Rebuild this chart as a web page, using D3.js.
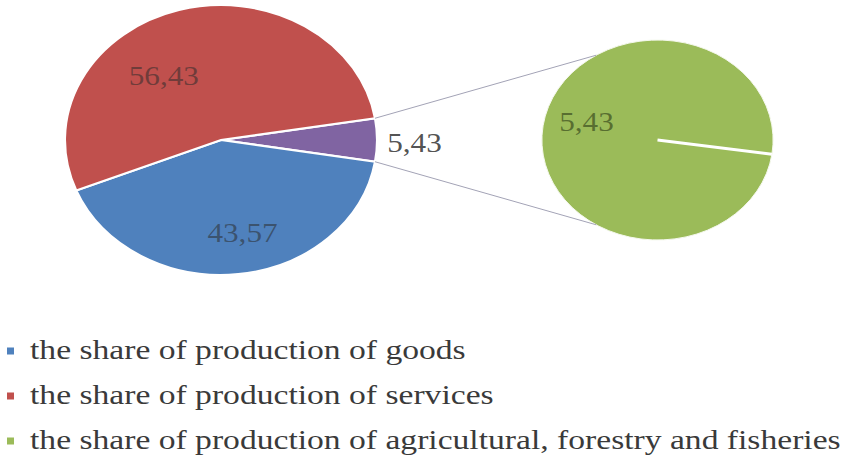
<!DOCTYPE html>
<html>
<head>
<meta charset="utf-8">
<script src="https://cdn.jsdelivr.net/npm/d3@7"></script>
<style>
  html, body { margin: 0; padding: 0; background: #ffffff; }
  svg { display: block; }
  text { font-family: "Liberation Serif", "Times New Roman", serif; }
</style>
</head>
<body>
<svg id="chart" width="845" height="457"></svg>
<script>
// ---- data ----
const categories = [
  "the share of production of goods",
  "the share of production of services",
  "the share of production of agricultural, forestry and fisheries"
];
const mainKeys = ["goods", "services"];
const mainValues = [43.57, 56.43];
const otherValue = 5.43;                 // the split-off slice, shown in the second pie
const secondValues = [5.43];             // agricultural, forestry and fisheries
const legendKeys = ["goods", "services", "agri"];

// ---- style ----
const colors = { goods: "#4f81bd", services: "#c0504d", other: "#8064a2", agri: "#9bbb59" };
const W = 845, H = 457;
const stretch = 1.156;                   // horizontal stretch of the picture
const main = { cx: 221, cy: 140, r: 135 };
const second = { cx: 657.5, cy: 140, r: 100, startDeg: 98.2 };
const fmt = v => d3.format(".2f")(v).replace(".", ",");
const rad = d => d * Math.PI / 180;

const svg = d3.select("#chart");
svg.append("rect").attr("width", W).attr("height", H).attr("fill", "#fff");

// ---- main pie ----
const mainData = [{ key: "other", value: otherValue }]
  .concat(mainKeys.map((k, i) => ({ key: k, value: mainValues[i] })));
const total = d3.sum(mainData, d => d.value);
const otherSpan = 2 * Math.PI * otherValue / total;
const mainStart = Math.PI / 2 - otherSpan / 2;
const pieMain = d3.pie().sort(null).value(d => d.value)
  .startAngle(mainStart).endAngle(mainStart + 2 * Math.PI);
const arcsMain = pieMain(mainData);
const arcMain = d3.arc().innerRadius(0).outerRadius(main.r);

const gMain = svg.append("g")
  .attr("transform", `translate(${main.cx},${main.cy}) scale(${stretch},1)`);
gMain.selectAll("path").data(arcsMain).join("path")
  .attr("d", arcMain)
  .attr("fill", d => colors[d.data.key])
  .attr("stroke", "#fff")
  .attr("stroke-width", 2.2)
  .attr("vector-effect", "non-scaling-stroke");

// ---- second pie ----
const pieSecond = d3.pie().sort(null)
  .startAngle(rad(second.startDeg)).endAngle(rad(second.startDeg) + 2 * Math.PI);
const arcsSecond = pieSecond(secondValues);
const arcSecond = d3.arc().innerRadius(0).outerRadius(second.r);
const gSecond = svg.append("g")
  .attr("transform", `translate(${second.cx},${second.cy}) scale(${stretch},1)`);
gSecond.selectAll("path").data(arcsSecond).join("path")
  .attr("d", arcSecond)
  .attr("fill", colors.agri)
  .attr("stroke", "#f4f8ec")
  .attr("stroke-width", 1)
  .attr("vector-effect", "non-scaling-stroke");
// slice boundary line of the single slice
gSecond.selectAll("line.sep").data(arcsSecond).join("line")
  .attr("class", "sep")
  .attr("x1", 0).attr("y1", 0)
  .attr("x2", d => second.r * Math.sin(d.startAngle))
  .attr("y2", d => -second.r * Math.cos(d.startAngle))
  .attr("stroke", "#fff")
  .attr("stroke-width", 3)
  .attr("vector-effect", "non-scaling-stroke");

// ---- connector lines ----
const pt = (c, r, a) => [c.cx + stretch * r * Math.sin(a), c.cy - r * Math.cos(a)];
const otherArc = arcsMain[0];
const connectors = [
  [pt(main, main.r, otherArc.startAngle), pt(second, second.r, rad(-32))],
  [pt(main, main.r, otherArc.endAngle), pt(second, second.r, rad(212))]
];
svg.append("g").selectAll("line").data(connectors).join("line")
  .attr("x1", d => d[0][0]).attr("y1", d => d[0][1])
  .attr("x2", d => d[1][0]).attr("y2", d => d[1][1])
  .attr("stroke", "#a3a3b6").attr("stroke-width", 1);

// ---- data labels ----
const labelStyle = {
  goods:    { shift: -5,  frac: 0.70, fill: "#2b2b2b", op: 0.55 },
  services: { shift: -22, frac: 0.60, fill: "#2b2b2b", op: 0.55 },
  other:    { shift: 1,   frac: 1.24, fill: "#3c3c3c", op: 0.9 }
};
const labels = arcsMain.map(d => {
  const s = labelStyle[d.data.key];
  const a = (d.startAngle + d.endAngle) / 2 + rad(s.shift);
  return { text: fmt(d.data.value), p: pt(main, main.r * s.frac, a), fill: s.fill, op: s.op };
});
arcsSecond.forEach(d => {
  const a = (d.startAngle + d.endAngle) / 2 + rad(8);
  labels.push({ text: fmt(d.data), p: pt(second, second.r * 0.64, a), fill: "#2b3a14", op: 0.6 });
});
svg.append("g").selectAll("g").data(labels).join("g")
  .attr("transform", d => `translate(${d.p[0]},${d.p[1]}) scale(${stretch},1)`)
  .append("text")
  .attr("text-anchor", "middle")
  .attr("dy", "0.34em")
  .attr("font-size", 27)
  .attr("fill", d => d.fill)
  .attr("fill-opacity", d => d.op)
  .text(d => d.text);

// ---- legend ----
const legendY = d3.scalePoint().domain(legendKeys).range([351, 441]);
const lg = svg.append("g").selectAll("g").data(legendKeys).join("g")
  .attr("transform", d => `translate(0,${legendY(d)})`);
lg.append("rect")
  .attr("x", 7).attr("y", -3.5).attr("width", 7).attr("height", 7)
  .attr("fill", d => colors[d]);
lg.append("g")
  .attr("transform", "translate(30,0) scale(1.245,1)")
  .append("text")
  .attr("dy", "0.3em")
  .attr("font-size", 27)
  .attr("fill", "#3a3a3a")
  .text((d, i) => categories[i]);
</script>
</body>
</html>
